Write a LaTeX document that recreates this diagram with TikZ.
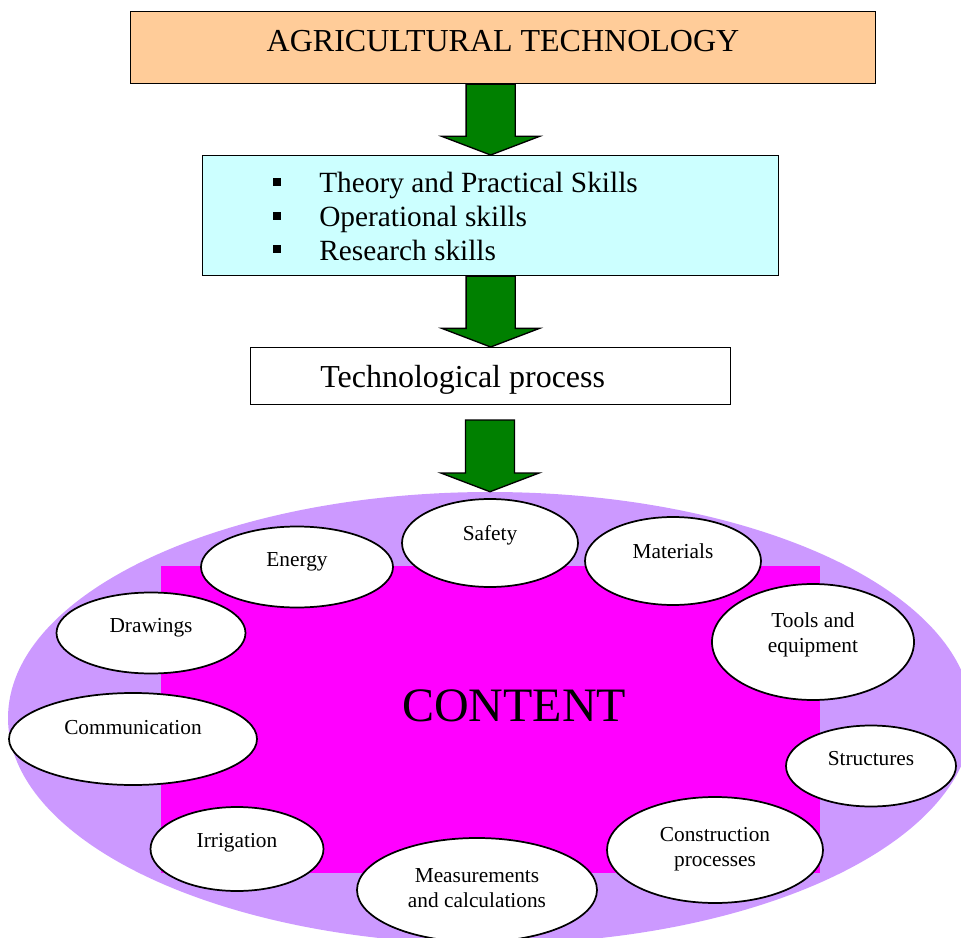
\documentclass[tikz,border=0pt]{standalone}
\usepackage{fontspec}
\setmainfont{Liberation Serif}
\usetikzlibrary{shapes.geometric,calc}
\definecolor{peach}{HTML}{FFCC99}
\definecolor{skillcyan}{HTML}{CCFFFF}
\definecolor{lavender}{HTML}{CC99FF}
\definecolor{contentmagenta}{HTML}{FF00FF}
\definecolor{arrowgreen}{HTML}{008000}
\begin{document}
\begin{tikzpicture}[x=0.75pt,y=-0.75pt,
  box/.style={draw=black, line width=1pt, inner sep=0pt, anchor=north west},
  bubble/.style={ellipse, draw=black, line width=1.3pt, fill=white, inner sep=0pt},
  smalltext/.style={font=\fontsize{16}{19}\selectfont, anchor=base, inner sep=0pt},
  bigtext/.style={font=\fontsize{24}{28}\selectfont, inner sep=0pt},
  listtext/.style={font=\fontsize{22}{26}\selectfont, anchor=base west, inner sep=0pt},
  bulletsq/.style={fill=black, inner sep=0pt, minimum size=5.5pt},
  blockarrow/.style={draw=black, line width=1pt, fill=arrowgreen, line join=miter}]
\useasboundingbox (0,0) rectangle (961,938);

% top boxes
\node[box, fill=peach, minimum width=745*0.75pt, minimum height=72*0.75pt] (agri) at (130,11) {};
\node[bigtext, anchor=base] (agritext) at (503,52) {AGRICULTURAL TECHNOLOGY};

\node[box, fill=skillcyan, minimum width=576*0.75pt, minimum height=120*0.75pt] (skills) at (202,155) {};
\node[bulletsq] (b1) at (277,182) {};
\node[bulletsq] (b2) at (277,216) {};
\node[bulletsq] (b3) at (277,249) {};
\node[listtext] (s1) at (319,193) {Theory and Practical Skills};
\node[listtext] (s2) at (319,227) {Operational skills};
\node[listtext] (s3) at (319,261) {Research skills};

\node[box, fill=white, minimum width=480*0.75pt, minimum height=57*0.75pt] (process) at (250,347) {};
\node[bigtext, anchor=base west] (processtext) at (320,387) {Technological process};

% content area
\begin{scope}
\clip (0,0) rectangle (961,938);
\node[ellipse, fill=lavender, inner sep=0pt, minimum width=964*0.75pt, minimum height=452*0.75pt] (outer) at (490,718) {};
\fill[contentmagenta] (161,566) rectangle (820,873);
\node[font=\fontsize{36}{40}\selectfont, anchor=base, inner sep=0pt] (content) at (514,721) {CONTENT};

\node[bubble, minimum width=176*0.75pt, minimum height=88*0.75pt] (safety) at (490,543) {};
\node[smalltext] (safetyt) at (490,540) {Safety};
\node[bubble, minimum width=192*0.75pt, minimum height=81*0.75pt] (energy) at (297,567) {};
\node[smalltext] (energyt) at (297,566) {Energy};
\node[bubble, minimum width=189*0.75pt, minimum height=81*0.75pt] (drawings) at (151,633) {};
\node[smalltext] (drawingst) at (151,632) {Drawings};
\node[bubble, minimum width=248*0.75pt, minimum height=92*0.75pt] (comm) at (133,739) {};
\node[smalltext] (commt) at (133,734) {Communication};
\node[bubble, minimum width=173*0.75pt, minimum height=84*0.75pt] (irrig) at (237,849) {};
\node[smalltext] (irrigt) at (237,847) {Irrigation};
\node[bubble, minimum width=240*0.75pt, minimum height=104*0.75pt] (measure) at (477,890) {};
\node[smalltext] (measuret1) at (477,882) {Measurements};
\node[smalltext] (measuret2) at (477,907) {and calculations};
\node[bubble, minimum width=176*0.75pt, minimum height=88*0.75pt] (materials) at (673,561) {};
\node[smalltext] (materialst) at (673,558) {Materials};
\node[bubble, minimum width=202*0.75pt, minimum height=116*0.75pt] (tools) at (813,642) {};
\node[smalltext] (toolst1) at (813,627) {Tools and};
\node[smalltext] (toolst2) at (813,652) {equipment};
\node[bubble, minimum width=170*0.75pt, minimum height=81*0.75pt] (structures) at (871,766) {};
\node[smalltext] (structurest) at (871,765) {Structures};
\node[bubble, minimum width=216*0.75pt, minimum height=106*0.75pt] (constr) at (715,850) {};
\node[smalltext] (constrt1) at (715,841) {Construction};
\node[smalltext] (constrt2) at (715,866) {processes};
\end{scope}

% green block arrows
\draw[blockarrow] let \p1=(agri.south -| skills.north), \p2=(skills.north) in
  (\x2-18.4pt,\y1) -- (\x2+18.4pt,\y1) -- (\x2+18.4pt,\y2+14pt) -- (\x2+36.7pt,\y2+14pt)
  -- (\x2,\y2) -- (\x2-36.7pt,\y2+14pt) -- (\x2-18.4pt,\y2+14pt) -- cycle;
\draw[blockarrow] let \p1=(skills.south -| process.north), \p2=(process.north) in
  (\x2-18.4pt,\y1) -- (\x2+18.4pt,\y1) -- (\x2+18.4pt,\y2+14pt) -- (\x2+36.7pt,\y2+14pt)
  -- (\x2,\y2) -- (\x2-36.7pt,\y2+14pt) -- (\x2-18.4pt,\y2+14pt) -- cycle;
\draw[blockarrow] let \p1=(process.south), \p2=(outer.north) in
  (\x2-18.4pt,\y1-11pt) -- (\x2+18.4pt,\y1-11pt) -- (\x2+18.4pt,\y2+14pt) -- (\x2+36.7pt,\y2+14pt)
  -- (\x2,\y2) -- (\x2-36.7pt,\y2+14pt) -- (\x2-18.4pt,\y2+14pt) -- cycle;
\end{tikzpicture}
\end{document}
